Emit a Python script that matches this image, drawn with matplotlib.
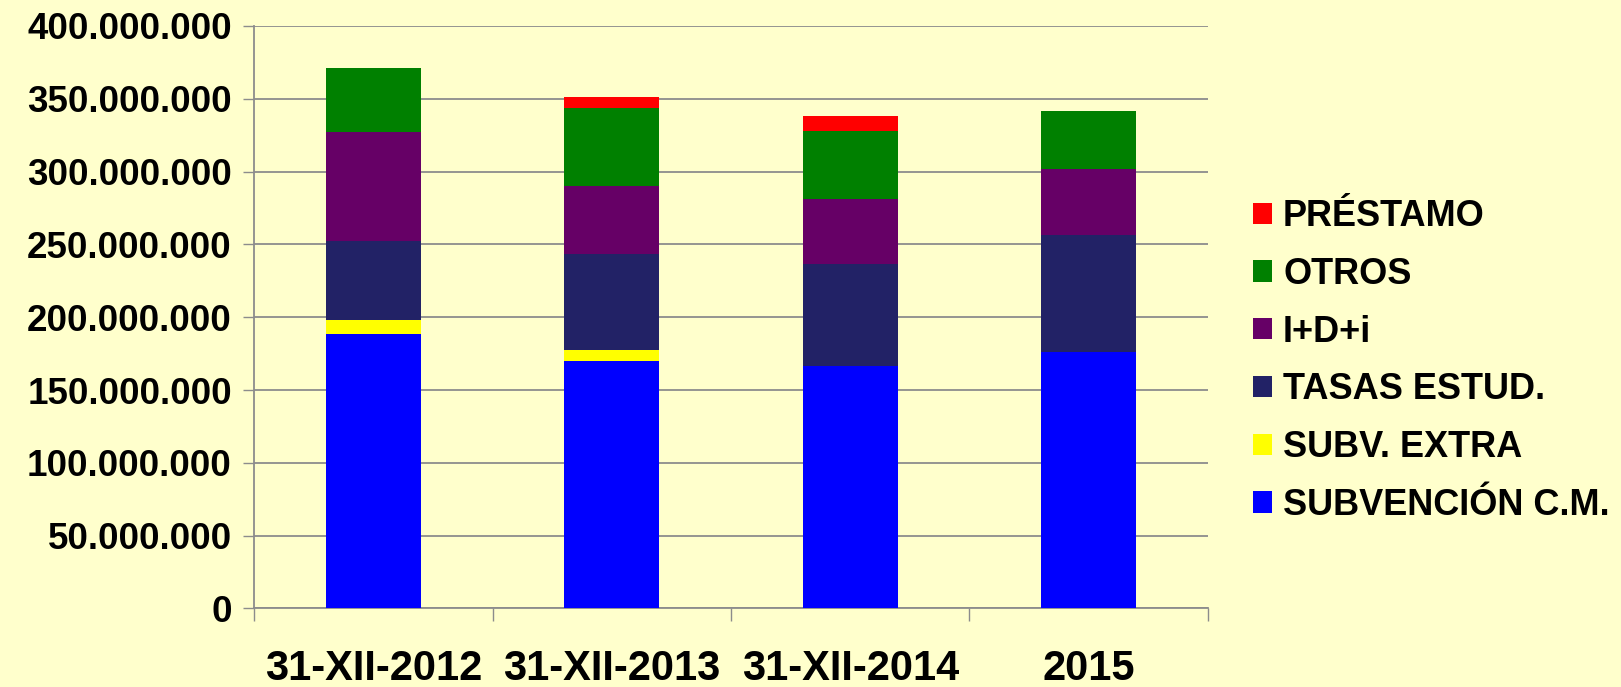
import matplotlib
matplotlib.use("Agg")
import matplotlib.pyplot as plt
from matplotlib.ticker import FuncFormatter, MultipleLocator
import numpy as np

plt.rcParams['font.family'] = ['Liberation Sans', 'DejaVu Sans']
plt.rcParams['font.weight'] = 'bold'

# values (euros)
categories = ['31-XII-2012', '31-XII-2013', '31-XII-2014', '2015']
subvencion_cm = [188.5e6, 170.0e6, 166.6e6, 176.0e6]
subv_extra = [9.9e6, 7.3e6, 0, 0]
tasas_estud = [54.0e6, 66.0e6, 70.0e6, 80.3e6]
idi = [75.1e6, 47.1e6, 44.9e6, 45.6e6]
otros = [43.5e6, 53.6e6, 46.4e6, 39.8e6]
prestamo = [0, 7.1e6, 10.3e6, 0]

series = [
    ('SUBVENCIÓN C.M.', subvencion_cm, '#0000ff'),
    ('SUBV. EXTRA', subv_extra, '#ffff00'),
    ('TASAS ESTUD.', tasas_estud, '#222266'),
    ('I+D+i', idi, '#660066'),
    ('OTROS', otros, '#008000'),
    ('PRÉSTAMO', prestamo, '#ff0000'),
]

bg = '#ffffcc'
grid_col = '#8c8c8c'

fig = plt.figure(figsize=(16.21, 6.87), dpi=100, facecolor=bg)
ax = fig.add_axes([0.1567, 0.1143, 0.5885, 0.8479], facecolor=bg)

x = np.arange(len(categories))
bottom = np.zeros(len(categories))
handles = []
for label, vals, col in series:
    vals = np.array(vals)
    b = ax.bar(x, vals, width=0.4, bottom=bottom, color=col, label=label,
               edgecolor='none', zorder=3)
    handles.append(b)
    bottom += vals

ax.set_xlim(-0.5, len(categories) - 0.5)
ax.set_ylim(0, 400e6)
ax.yaxis.set_major_locator(MultipleLocator(50e6))
ax.yaxis.set_major_formatter(FuncFormatter(lambda v, p: f'{int(v):,}'.replace(',', '.')))
ax.grid(axis='y', color=grid_col, linewidth=1.3, zorder=0)

ax.set_xticks(x)
ax.set_xticklabels(categories)
ax.set_xticks(np.arange(len(categories) + 1) - 0.5, minor=True)
ax.tick_params(axis='x', which='major', length=0, pad=29, labelsize=30)
ax.tick_params(axis='x', which='minor', length=9.5, width=1, color=grid_col)
ax.tick_params(axis='y', length=8, width=1, color=grid_col, pad=8, labelsize=26.5)

for s in ['top', 'right']:
    ax.spines[s].set_visible(False)
for s in ['left', 'bottom']:
    ax.spines[s].set_color(grid_col)
    ax.spines[s].set_linewidth(1.3)

leg = fig.legend(handles[::-1], [s[0] for s in series][::-1],
                 loc='center left', bbox_to_anchor=(0.773, 0.4746),
                 frameon=False, fontsize=26, borderpad=0, borderaxespad=0,
                 handlelength=0.53, handleheight=0.53, handletextpad=0.3,
                 labelspacing=0.63)

fig.savefig('out.png', dpi=100, facecolor=bg)
